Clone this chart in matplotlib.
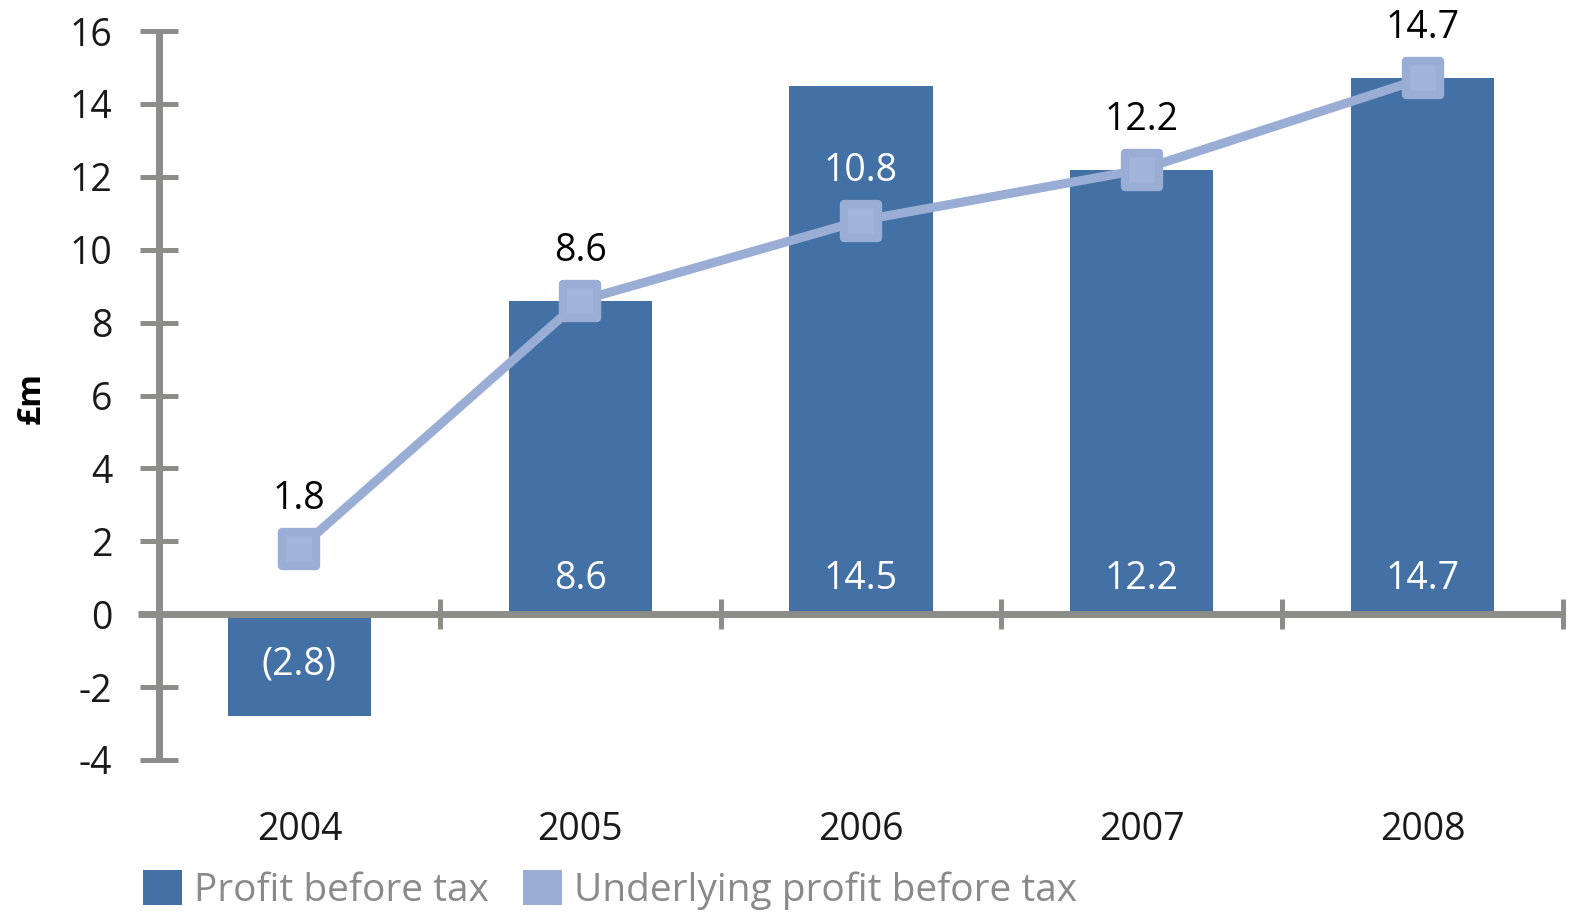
import matplotlib
matplotlib.use("Agg")
import matplotlib.pyplot as plt
from matplotlib.markers import MarkerStyle
from matplotlib.patches import Patch

years = ["2004", "2005", "2006", "2007", "2008"]
profit_before_tax = [-2.8, 8.6, 14.5, 12.2, 14.7]
underlying_profit = [1.8, 8.6, 10.8, 12.2, 14.7]
bar_labels = ["(2.8)", "8.6", "14.5", "12.2", "14.7"]
line_labels = ["1.8", "8.6", "10.8", "12.2", "14.7"]
line_label_colors = ["black", "black", "white", "black", "black"]
y_ticks = [-4, -2, 0, 2, 4, 6, 8, 10, 12, 14, 16]
legend_labels = ["Profit before tax", "Underlying profit before tax"]

FONT = "Open Sans"
plt.rcParams["font.family"] = [FONT, "DejaVu Sans"]

BAR_C = "#4371a5"
LINE_C = "#9aadd4"
AX_C = "#8c8c89"
FS = 27

W, H = 1576, 914
fig = plt.figure(figsize=(W / 100, H / 100), dpi=100)
ax = fig.add_axes([138 / W, 1 - 760 / H, (1563 - 138) / W, (760 - 31) / H])

x = list(range(len(years)))
ax.bar(x, profit_before_tax, width=0.51, color=BAR_C, zorder=2)
mk = MarkerStyle("s", joinstyle="round")
ax.plot(x, underlying_profit, color=LINE_C, lw=6.5, marker=mk, markersize=25,
        markerfacecolor="#a2b4da", markeredgecolor=LINE_C, markeredgewidth=6,
        zorder=3, solid_capstyle="round")

ax.set_xlim(-0.5 - 21 / 280.75, 4.5)
ax.set_ylim(-4, 16)

for s in ["top", "right"]:
    ax.spines[s].set_visible(False)
ax.spines["left"].set_position(("data", -0.5))
ax.spines["bottom"].set_position(("data", 0))
for s in ["left", "bottom"]:
    ax.spines[s].set_color(AX_C)
    ax.spines[s].set_linewidth(5)
    ax.spines[s].set_capstyle("butt")

ax.set_yticks(y_ticks)
ax.set_yticklabels([str(v) for v in y_ticks])
ax.tick_params(axis="y", direction="inout", length=27, width=3.6, color=AX_C,
               labelsize=FS, pad=20, labelcolor="#1a1a1a")
ax.set_xticks([0.5, 1.5, 2.5, 3.5, 4.5])
ax.set_xticklabels([])
ax.tick_params(axis="x", direction="inout", length=21, width=3.6, color=AX_C)

for i, yl in enumerate(years):
    ax.text(i, -0.096, yl, transform=ax.get_xaxis_transform(), ha="center",
            va="center", fontsize=FS, color="#1a1a1a")

for i, (v, lab) in enumerate(zip(profit_before_tax, bar_labels)):
    off = 25 if v > 0 else -36
    ax.annotate(lab, (i, 0), xytext=(0, off), textcoords="offset points",
                ha="center", va="center", fontsize=FS, color="white", zorder=5)

for i, (v, lab, c) in enumerate(zip(underlying_profit, line_labels, line_label_colors)):
    ax.annotate(lab, (i, v), xytext=(0, 36), textcoords="offset points",
                ha="center", va="center", fontsize=FS, color=c, zorder=5)

ax.set_ylabel("£m", fontsize=24, fontweight="bold")
ax.yaxis.set_label_coords(31 / W, 1 - 398 / H, transform=fig.transFigure)
ax.yaxis.label.set_va("center")

handles = [Patch(facecolor=BAR_C, edgecolor="none"), Patch(facecolor=LINE_C, edgecolor="none")]
fig.legend(handles, legend_labels, loc="center left", bbox_to_anchor=(143 / W, 1 - 890 / H),
           ncol=2, frameon=False, fontsize=28, labelcolor="#8a8a8a",
           handlelength=1.0, handleheight=1.0, handletextpad=0.3, columnspacing=0.9,
           borderpad=0, borderaxespad=0)

fig.savefig("out.png", dpi=100)
